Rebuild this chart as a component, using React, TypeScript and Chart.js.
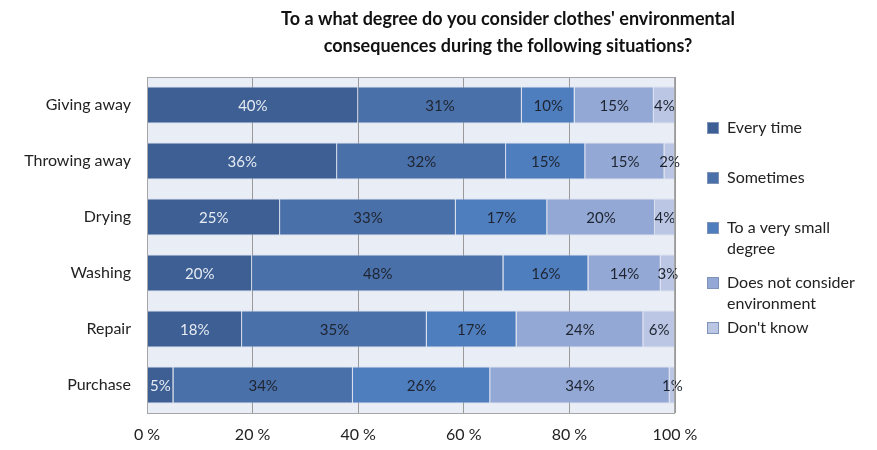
import React, { useEffect, useRef } from "react";
import { Chart, registerables } from "chart.js";

Chart.register(...registerables);

const titleLines = [
  "To a what degree do you consider clothes' environmental",
  "consequences during the following situations?",
];
const categories = ["Giving away", "Throwing away", "Drying", "Washing", "Repair", "Purchase"];
const seriesNames = [
  "Every time",
  "Sometimes",
  "To a very small degree",
  "Does not consider environment",
  "Don't know",
];
const legendLines = [
  ["Every time"],
  ["Sometimes"],
  ["To a very small", "degree"],
  ["Does not consider", "environment"],
  ["Don't know"],
];
const everyTime = [40, 36, 25.2, 19.9, 18, 5];
const sometimes = [31, 32, 33.3, 47.6, 35, 34];
const smallDegree = [10, 15, 17.3, 16.1, 17, 26];
const notConsider = [15, 15, 20.4, 13.7, 24, 34];
const dontKnow = [4, 2, 3.8, 2.7, 6, 1];
const xTicks = [0, 20, 40, 60, 80, 100];

const colors = ["#3D5F93", "#4A70A9", "#4F7EBF", "#93A8D4", "#BAC6E3"];
const labelColors = ["#E6EBF3", "#1E2430", "#1E2430", "#1E2430", "#1E2430"];
const FONT = "Lato, 'Open Sans', sans-serif";

const bgPlugin = {
  id: "plotBg",
  beforeDraw(chart: any) {
    const { ctx, chartArea } = chart;
    ctx.save();
    ctx.fillStyle = "#E9EDF5";
    ctx.fillRect(chartArea.left, chartArea.top, chartArea.right - chartArea.left, chartArea.bottom - chartArea.top);
    ctx.restore();
  },
};

const valueLabels = {
  id: "valueLabels",
  afterDatasetsDraw(chart: any) {
    const { ctx } = chart;
    ctx.save();
    ctx.font = `15px ${FONT}`;
    ctx.textAlign = "center";
    ctx.textBaseline = "middle";
    chart.data.datasets.forEach((ds: any, i: number) => {
      const meta = chart.getDatasetMeta(i);
      meta.data.forEach((el: any, j: number) => {
        const p = el.getProps(["x", "y", "base"], true);
        ctx.fillStyle = labelColors[i];
        ctx.fillText(Math.round(ds.data[j]) + "%", (p.x + p.base) / 2, p.y + 1);
      });
    });
    ctx.restore();
  },
};

const frameAndText = {
  id: "frameAndText",
  afterDraw(chart: any) {
    const { ctx, chartArea } = chart;
    ctx.save();
    ctx.strokeStyle = "#A6A6A6";
    ctx.lineWidth = 1;
    ctx.strokeRect(chartArea.left + 0.5, chartArea.top + 0.5, chartArea.right - chartArea.left - 1, chartArea.bottom - chartArea.top);
    // title
    ctx.fillStyle = "#111";
    ctx.font = `bold 18px ${FONT}`;
    ctx.textAlign = "center";
    ctx.textBaseline = "middle";
    titleLines.forEach((t, i) => ctx.fillText(t, 508, 19 + i * 27));
    // legend
    const starts = [128, 178, 228, 283, 328];
    ctx.font = `16px ${FONT}`;
    ctx.textAlign = "left";
    legendLines.forEach((lines, i) => {
      const y = starts[i];
      ctx.fillStyle = colors[i];
      ctx.fillRect(707, y - 6, 12, 12);
      ctx.strokeStyle = "#7F93B8";
      ctx.strokeRect(707.5, y - 5.5, 11, 11);
      ctx.fillStyle = "#222";
      lines.forEach((l, k) => ctx.fillText(l, 727, y + k * 21));
    });
    ctx.restore();
  },
};

export default function App() {
  const ref = useRef<HTMLCanvasElement>(null);
  useEffect(() => {
    const series = [everyTime, sometimes, smallDegree, notConsider, dontKnow];
    const chart = new Chart(ref.current!, {
      type: "bar",
      data: {
        labels: categories,
        datasets: series.map((d, i) => ({
          label: seriesNames[i],
          data: d,
          backgroundColor: colors[i],
          borderColor: "rgba(200,210,230,0.6)",
          borderWidth: 1,
          categoryPercentage: 1,
          barPercentage: 0.66,
        })),
      },
      options: {
        indexAxis: "y",
        animation: false,
        responsive: true,
        maintainAspectRatio: false,
        layout: { padding: { top: 77, right: 202, left: 0, bottom: 0 } },
        plugins: {
          legend: { display: false },
          title: { display: false },
          tooltip: { enabled: false },
        },
        scales: {
          x: {
            stacked: true,
            min: 0,
            max: 100,
            afterBuildTicks: (scale: any) => {
              scale.ticks = xTicks.map((v) => ({ value: v }));
            },
            afterFit: (scale: any) => {
              scale.height = 37;
            },
            grid: { color: "#9A9A9A", drawTicks: false, lineWidth: 1 },
            border: { display: false },
            ticks: {
              padding: 12,
              color: "#222",
              font: { family: FONT, size: 16 },
              callback: (v: any) => v + " %",
            },
          },
          y: {
            stacked: true,
            afterFit: (scale: any) => {
              scale.width = 147;
            },
            grid: { display: false, drawTicks: false },
            border: { display: false },
            ticks: {
              padding: 16,
              color: "#222",
              font: { family: FONT, size: 16 },
            },
          },
        },
      },
      plugins: [bgPlugin, valueLabels, frameAndText],
    });
    return () => chart.destroy();
  }, []);
  return (
    <div style={{ position: "absolute", left: 0, top: 0, width: 877, height: 450, background: "#fff" }}>
      <canvas ref={ref} />
    </div>
  );
}
